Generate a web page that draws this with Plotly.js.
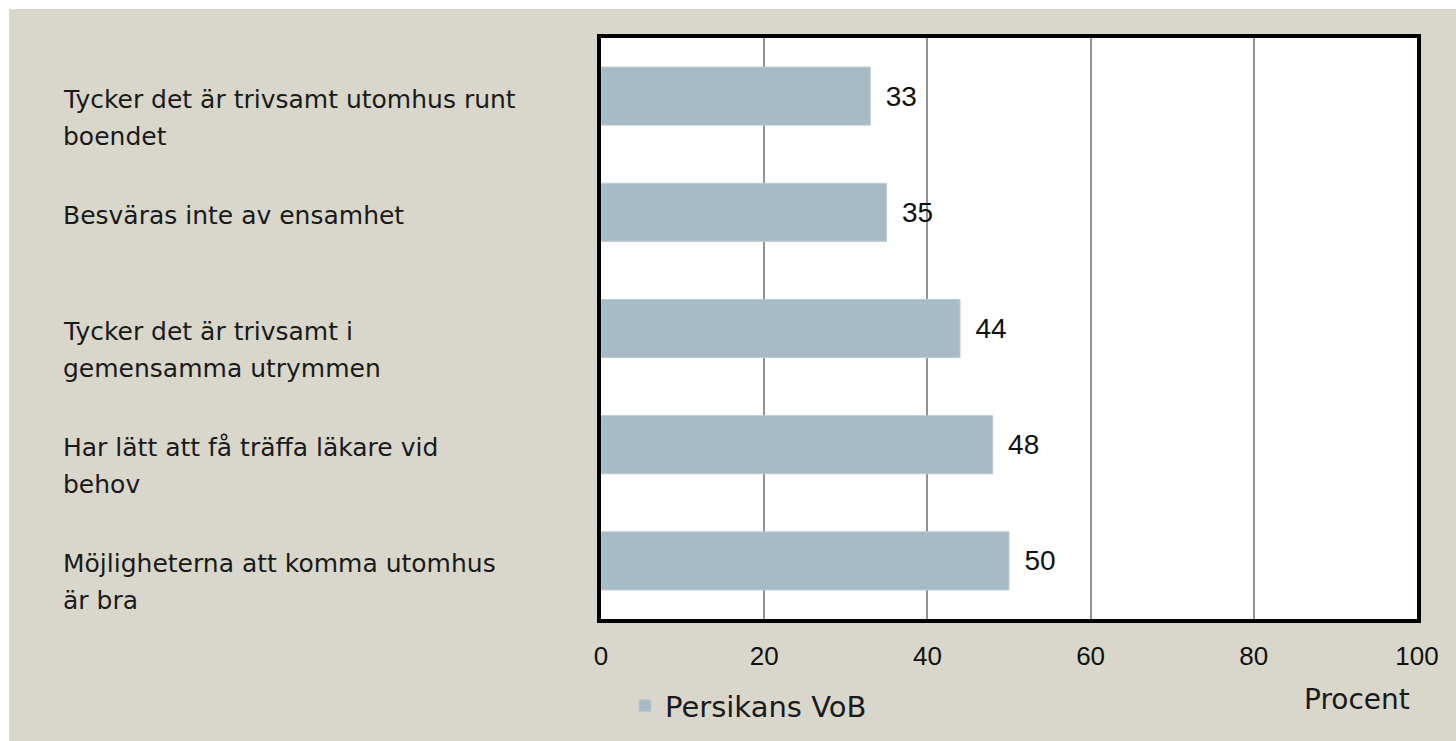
<!DOCTYPE html>
<html>
<head>
<meta charset="utf-8">
<script src="https://cdn.plot.ly/plotly-3.0.1.min.js"></script>
<style>
  html, body { margin: 0; padding: 0; background: #ffffff; overflow: hidden; }
  #chart { position: absolute; left: 9px; top: 9px; width: 1447px; height: 732px; }
</style>
</head>
<body>
<div id="chart"></div>
<script>
// Data (top to bottom as in the reference)
const categories = [
  "Tycker det är trivsamt utomhus runt<br>boendet",
  "Besväras inte av ensamhet",
  "Tycker det är trivsamt i<br>gemensamma utrymmen",
  "Har lätt att få träffa läkare vid<br>behov",
  "Möjligheterna att komma utomhus<br>är bra"
];
const seriesName = "Persikans VoB";
const values = [33, 35, 44, 48, 50];
const tickValues = [0, 20, 40, 60, 80, 100];
const axisLabel = "Procent";

const FONT = "DejaVu Sans";
const NUMFONT = "Liberation Sans, Arial, sans-serif";
const catIds = categories.map((c, i) => "c" + i);

const trace = {
  type: "bar",
  orientation: "h",
  name: seriesName,
  y: catIds,
  x: values,
  texttemplate: "\u00a0\u2006%{x}",
  textposition: "outside",
  textfont: { family: NUMFONT, size: 28, color: "#111111" },
  cliponaxis: false,
  marker: { color: "#a7bbc6", line: { color: "#bccbd3", width: 1 } },
  hoverinfo: "x+name"
};

const annotations = [];
categories.forEach((c, i) => {
  c.split("<br>").forEach((line, j) => {
    annotations.push({
      xref: "paper", yref: "y",
      x: -0.662, y: catIds[i],
      xanchor: "left", yanchor: "middle",
      yshift: -(3 + 37 * j),
      text: line, showarrow: false, align: "left",
      font: { family: FONT, size: 25, color: "#1a1a1a" }
    });
  });
});
annotations.push({
  xref: "paper", yref: "paper",
  x: 0.9265, y: -0.138,
  xanchor: "center", yanchor: "middle",
  text: axisLabel, showarrow: false,
  font: { family: FONT, size: 28, color: "#1a1a1a" }
});

const layout = {
  width: 1447, height: 732,
  paper_bgcolor: "#d9d7cb",
  plot_bgcolor: "#ffffff",
  margin: { l: 592, r: 39, t: 29, b: 122, autoexpand: false },
  bargap: 0.5,
  showlegend: true,
  legend: {
    orientation: "h",
    xref: "container", yref: "container",
    x: 0.4257, y: 0.048, xanchor: "left", yanchor: "middle",
    font: { family: FONT, size: 29, color: "#1a1a1a" },
    bgcolor: "rgba(0,0,0,0)",
    itemwidth: 30
  },
  xaxis: {
    range: [0, 100],
    tickvals: tickValues,
    ticktext: tickValues.map(String),
    tickfont: { family: NUMFONT, size: 26, color: "#111111" },
    ticks: "outside", ticklen: 11, tickcolor: "rgba(0,0,0,0)",
    showgrid: true, gridcolor: "#939393", gridwidth: 2,
    showline: true, linecolor: "#000000", linewidth: 4, mirror: true,
    zeroline: false, fixedrange: true
  },
  yaxis: {
    type: "category",
    categoryorder: "array", categoryarray: catIds,
    autorange: "reversed",
    showticklabels: false,
    showgrid: false,
    showline: true, linecolor: "#000000", linewidth: 4, mirror: true,
    zeroline: false, fixedrange: true
  },
  annotations: annotations
};

Plotly.newPlot("chart", [trace], layout, { displayModeBar: false, staticPlot: true });
</script>
</body>
</html>
